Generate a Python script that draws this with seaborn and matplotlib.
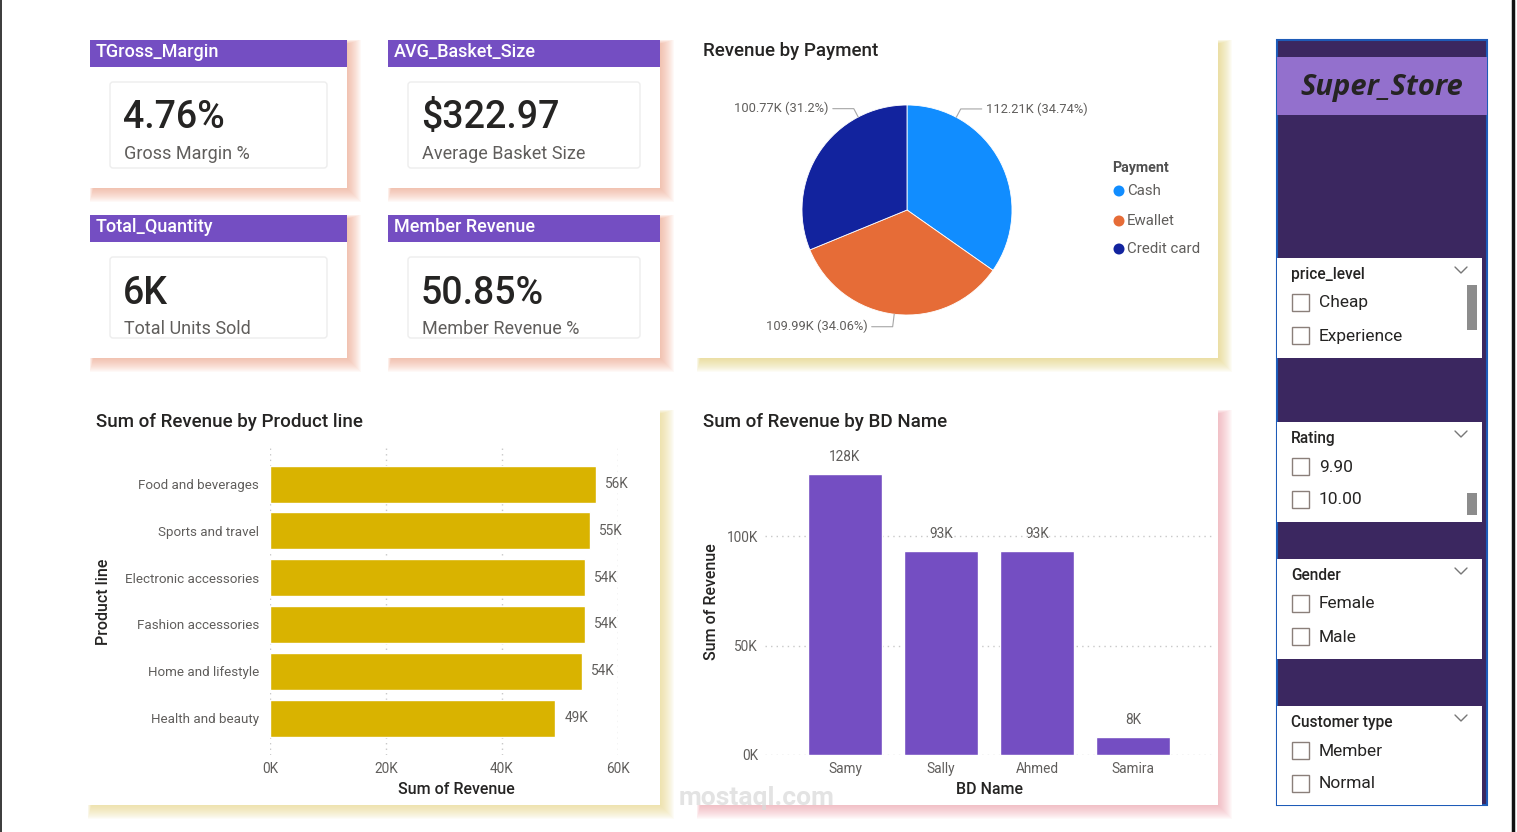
import matplotlib
matplotlib.use("Agg")
import matplotlib.pyplot as plt
import seaborn as sns
import numpy as np
import pandas as pd
from matplotlib.patches import Rectangle, FancyBboxPatch, Circle
from matplotlib.ticker import FuncFormatter

# ---------------- data ----------------
kpi_headers = ["TGross_Margin", "AVG_Basket_Size", "Total_Quantity", "Member Revenue"]
kpi_values = ["4.76%", "$322.97", "6K", "50.85%"]
kpi_labels = ["Gross Margin %", "Average Basket Size", "Total Units Sold", "Member Revenue %"]

payment_methods = ["Cash", "Ewallet", "Credit card"]
payment_revenue_k = [112.21, 109.99, 100.77]
payment_share = [34.74, 34.06, 31.2]

product_lines = ["Food and beverages", "Sports and travel", "Electronic accessories",
                 "Fashion accessories", "Home and lifestyle", "Health and beauty"]
product_revenue = [56144.84, 55122.83, 54337.53, 54305.90, 53861.91, 49193.74]

bd_names = ["Samy", "Sally", "Ahmed", "Samira"]
bd_revenue = [128400, 93200, 93100, 8270]

slicer_titles = ["price_level", "Rating", "Gender", "Customer type"]
slicer_items = [["Cheap", "Experience"], ["9.90", "10.00"], ["Female", "Male"], ["Member", "Normal"]]

# ---------------- style ----------------
sns.set_theme(style="white")
plt.rcParams["font.family"] = ["Roboto", "DejaVu Sans"]

PURPLE = "#744EC2"
GOLD = "#D9B300"
DARK = "#252423"
GRAY = "#605E5C"
GRID = "#C8C8C8"
pie_colors = ["#118DFF", "#E66C37", "#12239E"]

W, H = 1517, 832
fig = plt.figure(figsize=(W / 100, H / 100), dpi=100)
fig.patch.set_facecolor("white")
bg = fig.add_axes([0, 0, 1, 1])
bg.set_xlim(0, W)
bg.set_ylim(H, 0)
bg.axis("off")


def axbox(x0, y0, x1, y1):
    a = fig.add_axes([x0 / W, 1 - y1 / H, (x1 - x0) / W, (y1 - y0) / H])
    a.set_facecolor("none")
    return a


def shadow(x0, y0, x1, y1, color, n=14, alpha=0.06):
    for s in range(1, n + 1):
        bg.add_patch(Rectangle((x0 + 4 - s * 0.3, y0 + 4 - s * 0.3),
                               (x1 - x0) + s * 1.3 - 4, (y1 - y0) + s * 1.3 - 4,
                               facecolor=color, edgecolor="none", alpha=alpha, zorder=1))


def panel(x0, y0, x1, y1, color):
    shadow(x0, y0, x1, y1, color)
    bg.add_patch(Rectangle((x0, y0), x1 - x0, y1 - y0, facecolor="white", edgecolor="none", zorder=2))


# page borders
bg.plot([0.7, 0.7], [0, H], color="#3A3A3A", lw=1.4, zorder=10)
bg.plot([1513, 1513], [0, H], color="#111111", lw=2.5, zorder=10)

# ---------------- KPI cards ----------------
cards = [(90, 40, 347, 188), (388, 40, 660, 188), (90, 215, 347, 358), (388, 215, 660, 358)]
for (x0, y0, x1, y1), hd, val, lab in zip(cards, kpi_headers, kpi_values, kpi_labels):
    panel(x0, y0, x1, y1, "#EE9E82")
    bg.add_patch(Rectangle((x0, y0), x1 - x0, 27, facecolor=PURPLE, edgecolor="none", zorder=3))
    bg.text(x0 + 6, y0 + 12, hd, color="white", fontsize=13, fontweight="medium",
            va="center", ha="left", zorder=4)
    bg.add_patch(FancyBboxPatch((x0 + 20, y0 + 42), (x1 - x0) - 40, (y1 - y0) - 62,
                                boxstyle="round,pad=0,rounding_size=3", facecolor="white",
                                edgecolor="#EDEDED", lw=1, zorder=3))
    bg.text(x0 + 33, y0 + 78, val, color=DARK, fontsize=27, fontweight="medium",
            va="center", ha="left", zorder=4)
    bg.text(x0 + 34, y0 + 114, lab, color=GRAY, fontsize=13, va="center", ha="left", zorder=4)

# ---------------- Pie panel ----------------
panel(697, 40, 1218, 358, "#E3CF6A")
bg.text(703, 51, "Revenue by Payment", color=DARK, fontsize=13.5, fontweight="medium",
        va="center", ha="left", zorder=4)

axp = axbox(802, 105, 1012, 315)
axp.pie(payment_revenue_k, colors=pie_colors, startangle=90, counterclock=False, radius=1,
        wedgeprops=dict(linewidth=0.6, edgecolor="white"))
axp.set_xlim(-1, 1)
axp.set_ylim(-1, 1)

label_angles = [62, 263, 117.7]
label_side = [1, -1, -1]
label_elbow = [1.09, 1.12, 1.09]
for rev, sh, ang, side, el in zip(payment_revenue_k, payment_share, label_angles, label_side, label_elbow):
    a = np.deg2rad(ang)
    ex, ey = np.cos(a), np.sin(a)
    bx, by = ex * el, ey * el
    cx = bx + side * 0.2
    axp.plot([ex, bx, cx], [ey, by, by], color="#A6A6A6", lw=0.8, clip_on=False)
    axp.text(cx + side * 0.04, by, f"{rev:.2f}K ({sh:g}%)", color=GRAY, fontsize=9.3,
             ha="left" if side > 0 else "right", va="center", clip_on=False)

bg.text(1112, 168, "Payment", color="#505050", fontsize=10.3, fontweight="bold", va="center", ha="left", zorder=4)
for i, (m, c) in enumerate(zip(payment_methods, pie_colors)):
    yy = [191, 221, 249][i]
    bg.add_patch(Circle((1119, yy), 5.5, facecolor=c, edgecolor="none", zorder=4))
    bg.text(1127, yy, m, color=GRAY, fontsize=10.8, va="center", ha="left", zorder=4)

# ---------------- Bar chart: product line ----------------
panel(88, 410, 660, 805, "#E8D67C")
bg.text(96, 422, "Sum of Revenue by Product line", color=DARK, fontsize=13.5, fontweight="medium",
        va="center", ha="left", zorder=4)

ax1 = axbox(270, 448, 618, 755)
df1 = pd.DataFrame({"Product line": product_lines, "Revenue": product_revenue})
sns.barplot(data=df1, x="Revenue", y="Product line", orient="h", color=GOLD, saturation=1,
            width=0.79, ax=ax1)
ax1.set_xlim(0, 60000)
ax1.set_ylim(5.79, -0.77)
ax1.set_xticks([0, 20000, 40000, 60000])
ax1.xaxis.set_major_formatter(FuncFormatter(lambda v, p: f"{v/1000:.0f}K"))
ax1.xaxis.grid(True, color=GRID, ls=(0, (1, 3)), lw=1)
ax1.yaxis.grid(False)
for s in ax1.spines.values():
    s.set_visible(False)
ax1.tick_params(axis="y", length=0, pad=8, labelsize=9.6, labelcolor=GRAY)
ax1.tick_params(axis="x", length=0, pad=5, labelsize=9.8, labelcolor=GRAY)
ax1.bar_label(ax1.containers[0], labels=[f"{v/1000:.0f}K" for v in product_revenue],
              padding=6.5, color=GRAY, fontsize=9.8)
ax1.set_xlabel("Sum of Revenue", fontsize=11.5, color=DARK, fontweight="medium")
ax1.set_ylabel("Product line", fontsize=11.5, color=DARK, fontweight="medium")
ax1.xaxis.set_label_coords((456 - 270) / 348, -(790 - 755) / 307)
ax1.xaxis.label.set_va("center")
ax1.yaxis.set_label_coords((104 - 270) / 348, 0.5)
ax1.yaxis.label.set_va("center")

# ---------------- Bar chart: BD name ----------------
panel(697, 410, 1218, 805, "#EE9AA6")
bg.text(703, 422, "Sum of Revenue by BD Name", color=DARK, fontsize=13.5, fontweight="medium",
        va="center", ha="left", zorder=4)

ax2 = axbox(765, 448, 1212, 755)
df2 = pd.DataFrame({"BD Name": bd_names, "Revenue": bd_revenue})
sns.barplot(data=df2, x="BD Name", y="Revenue", color=PURPLE, saturation=1, width=0.77, ax=ax2)
ax2.set_xlim(-0.833, 3.823)
ax2.set_ylim(0, 140200)
ax2.set_yticks([0, 50000, 100000])
ax2.yaxis.set_major_formatter(FuncFormatter(lambda v, p: f"{v/1000:.0f}K"))
ax2.yaxis.grid(True, color=GRID, ls=(0, (1, 3)), lw=1)
ax2.xaxis.grid(False)
ax2.set_axisbelow(True)
for s in ax2.spines.values():
    s.set_visible(False)
ax2.tick_params(axis="y", length=0, pad=5, labelsize=9.8, labelcolor=GRAY)
ax2.tick_params(axis="x", length=0, pad=5, labelsize=9.8, labelcolor=GRAY)
ax2.bar_label(ax2.containers[0], labels=[f"{v/1000:.0f}K" for v in bd_revenue],
              padding=7, color=GRAY, fontsize=9.8)
ax2.set_xlabel("BD Name", fontsize=11.5, color=DARK, fontweight="medium")
ax2.set_ylabel("Sum of Revenue", fontsize=11.5, color=DARK, fontweight="medium")
ax2.xaxis.set_label_coords((990 - 765) / 447, -(790 - 755) / 307)
ax2.xaxis.label.set_va("center")
ax2.yaxis.set_label_coords((712 - 765) / 447, 0.5)
ax2.yaxis.label.set_va("center")

# watermark
bg.text(757, 798, "mostaql.com", color="#DADADA", fontsize=19, fontweight="bold",
        va="center", ha="center", alpha=0.75, zorder=20)

# ---------------- Sidebar ----------------
bg.add_patch(Rectangle((1277, 40), 210, 765, facecolor="#3B2760", edgecolor="#1E5BB8", lw=1.5, zorder=2))
bg.add_patch(Rectangle((1277, 57), 210, 58, facecolor="#9370CD", edgecolor="none", zorder=3))
bg.text(1382, 87, "Super_Store", color=DARK, fontsize=21, fontweight="bold", fontstyle="italic",
        family=["Open Sans", "DejaVu Sans"], va="center", ha="center", zorder=4)

slicer_tops = [258, 422, 559, 706]
slicer_heights = [100, 100, 100, 99]
scrollbars = [(285, 330), (493, 515), None, None]
for top, hgt, title, items, sb in zip(slicer_tops, slicer_heights, slicer_titles, slicer_items, scrollbars):
    bg.add_patch(Rectangle((1277, top), 205, hgt, facecolor="white", edgecolor="none", zorder=3))
    bg.text(1291, top + 16, title, color=DARK, fontsize=11.2, fontweight="medium",
            va="center", ha="left", zorder=4)
    bg.plot([1455, 1461, 1467], [top + 9, top + 15, top + 9], color="#777777", lw=1, zorder=4)
    for j, it in enumerate(items):
        yy = top + 44 + 33 * j
        bg.add_patch(Rectangle((1292, yy - 8.5), 17, 17, facecolor="white", edgecolor="#8A7F7A",
                               lw=1, zorder=4))
        bg.text(1319, yy + 1, it, color=DARK, fontsize=12.5, va="center", ha="left", zorder=4)
    if sb is not None:
        bg.add_patch(Rectangle((1467, sb[0]), 10, sb[1] - sb[0], facecolor="#8C8C8C",
                               edgecolor="none", zorder=4))

fig.savefig("out.png", dpi=100, facecolor="white")
